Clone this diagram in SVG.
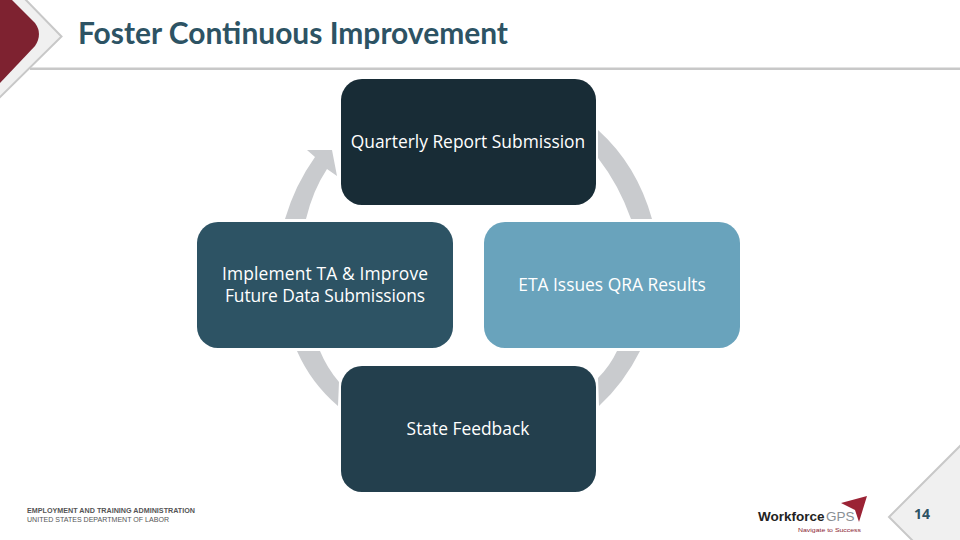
<svg xmlns="http://www.w3.org/2000/svg" width="960" height="540" viewBox="0 0 960 540">
<style>
.bg{fill:#ffffff}
.arc{fill:#c9cbce}
.node-text{font-family:"Open Sans","Noto Sans",sans-serif;font-size:17.400px;fill:#ffffff;text-anchor:middle}
.title{font-family:Lato,"Liberation Sans",sans-serif;font-size:30px;font-weight:700;fill:#2d5364}
.corner{fill:#f0f0f0;stroke:#c8c8c8;stroke-width:2}
.foot{font-family:"Liberation Sans",Arial,sans-serif;font-size:7.400px;fill:#555555}
.logo{font-family:"Liberation Sans",Arial,sans-serif;font-size:13.500px}
</style>
<rect class="bg" width="960" height="540"/>
<g id="header">
<rect x="30" y="67.500" width="930" height="2.500" fill="#c8c8c8"/>
<path class="corner" d="M24,-2 L61.500,36.500 L-2,99 L-2,-2 Z"/>
<path d="M0,0 L12,0 L35,23 Q43,34 35,46 L0,83 Z" fill="#7e2230"/>
<text class="title" x="78" y="44" textLength="430" lengthAdjust="spacingAndGlyphs">Foster Continuous Improvement</text>
</g>
<g id="connectors">
<path class="arc" d="M285,219 Q295,185 315,157 L307,150 L332,150 L337,176 L327,169 Q313,190 306,219 Z"/>
<path class="arc" d="M598,130 Q637,165 652,219 L631,219 Q619,185 598,158 Z"/>
<path class="arc" d="M640,351 Q624,383 599,406 L598,378 Q610,366 617,351 Z"/>
<path class="arc" d="M297,351 Q311,383 338,406 L339,382 Q327,368 320,351 Z"/>
</g>
<g id="node-quarterly">
<rect x="341" y="79" width="255" height="126" rx="21" fill="#182c36"/>
<text class="node-text" x="468" y="147.500">Quarterly Report Submission</text>
</g>
<g id="node-implement">
<rect x="197" y="222" width="256" height="126" rx="21" fill="#2d5364"/>
<text class="node-text" x="325" y="279.500" textLength="206">Implement TA &amp; Improve</text>
<text class="node-text" x="325" y="301.500" textLength="200">Future Data Submissions</text>
</g>
<g id="node-eta">
<rect x="484" y="222" width="256" height="126" rx="21" fill="#69a3bc"/>
<text class="node-text" x="612" y="290.500">ETA Issues QRA Results</text>
</g>
<g id="node-feedback">
<rect x="341" y="366" width="255" height="126" rx="21" fill="#233f4d"/>
<text class="node-text" x="468" y="434.500">State Feedback</text>
</g>
<g id="footer">
<text class="foot" x="27" y="513" font-weight="700" textLength="168" lengthAdjust="spacingAndGlyphs">EMPLOYMENT AND TRAINING ADMINISTRATION</text>
<text class="foot" x="27" y="522" textLength="142" lengthAdjust="spacingAndGlyphs">UNITED STATES DEPARTMENT OF LABOR</text>
</g>
<g id="logo">
<polygon points="867,496 841,503 855,510 859,522" fill="#9b2335"/>
<text class="logo" x="758" y="521" font-weight="700" fill="#222222">Workforce</text>
<text class="logo" x="826" y="521" fill="#8a8f94">GPS</text>
<text x="798" y="532" font-family="'Liberation Sans',Arial,sans-serif" font-size="5.800" fill="#8a2432" textLength="63" lengthAdjust="spacingAndGlyphs">Navigate to Success</text>
</g>
<g id="page-number">
<path class="corner" d="M962,444 L889,517 L914,542 L962,542 Z"/>
<text x="922" y="519" font-family="'Open Sans',sans-serif" font-size="14px" font-weight="700" fill="#2d5364" text-anchor="middle">14</text>
</g>
</svg>
